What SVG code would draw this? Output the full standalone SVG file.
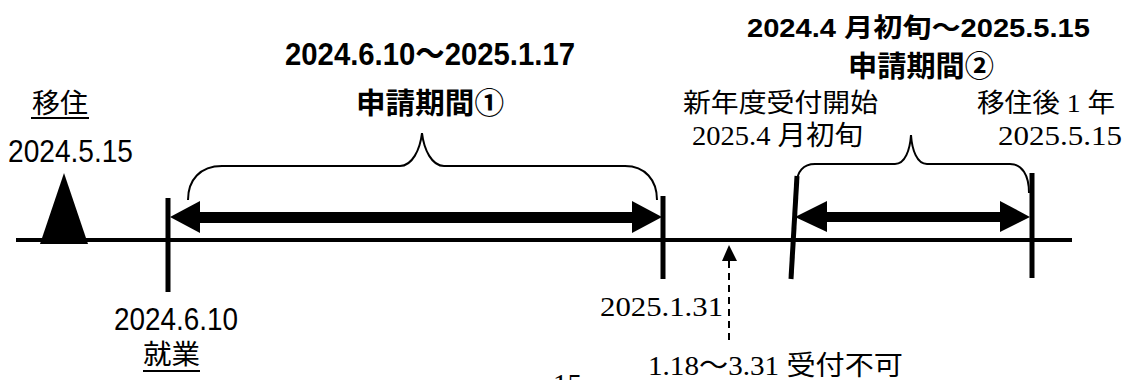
<svg xmlns="http://www.w3.org/2000/svg" width="1126" height="380" viewBox="0 0 1126 380">
<style>
.g{font-family:"Liberation Sans","Noto Sans CJK JP",sans-serif;fill:#000}
.gb{font-family:"Liberation Sans","Noto Sans CJK JP",sans-serif;font-weight:bold;fill:#000}
.s{font-family:"Liberation Serif","Noto Sans CJK JP",serif;fill:#000}
.tick{stroke:#000;stroke-width:5;fill:none}
.brace{stroke:#000;stroke-width:2;fill:none}
.ul{stroke:#000;stroke-width:2}
</style>
<rect width="1126" height="380" fill="#fff"/>
<g id="connectors">
  <line x1="16" y1="240" x2="1072" y2="240" stroke="#000" stroke-width="4"/>
  <g id="arrow1">
    <rect x="198" y="212" width="436" height="11" fill="#000"/>
    <polygon points="170,217 200,201 200,233" fill="#000"/>
    <polygon points="662,217 632,201 632,233" fill="#000"/>
  </g>
  <g id="arrow2">
    <rect x="825" y="212" width="177" height="10" fill="#000"/>
    <polygon points="795,217 827,201 827,232" fill="#000"/>
    <polygon points="1030,217 1000,201 1000,232" fill="#000"/>
  </g>
  <g id="dashed-arrow">
    <line x1="729" y1="340" x2="729" y2="260" stroke="#000" stroke-width="2" stroke-dasharray="7,5"/>
    <polygon points="729,245 722,261 737,261" fill="#000"/>
  </g>
</g>
<g id="move-in">
  <polygon points="64,173 88,244 40,244" fill="#000"/>
  <text class="g" x="32" y="113" font-size="27" textLength="56" lengthAdjust="spacingAndGlyphs">移住</text>
  <line class="ul" x1="31" y1="118" x2="89" y2="118"/>
  <text class="g" x="8" y="162" font-size="32" textLength="125" lengthAdjust="spacingAndGlyphs">2024.5.15</text>
</g>
<g id="employment">
  <line class="tick" x1="168" y1="198" x2="168" y2="292"/>
  <text class="g" x="114" y="330" font-size="32" textLength="124" lengthAdjust="spacingAndGlyphs">2024.6.10</text>
  <text class="g" x="143" y="364" font-size="27" textLength="57" lengthAdjust="spacingAndGlyphs">就業</text>
  <line class="ul" x1="143" y1="371" x2="200" y2="371"/>
</g>
<g id="period1">
  <path class="brace" d="M188,200 C188,180 200,166 222,166 L400,166 C412,166 420,150 422,133 C424,150 432,166 444,166 L625,166 C645,166 657,180 657,200"/>
  <text class="gb" x="285" y="65" font-size="32" textLength="290" lengthAdjust="spacingAndGlyphs">2024.6.10～2025.1.17</text>
  <text class="gb" x="356" y="114" font-size="29" textLength="148" lengthAdjust="spacingAndGlyphs">申請期間①</text>
</g>
<g id="end1">
  <line class="tick" x1="663" y1="196" x2="663" y2="279"/>
  <text class="s" x="600" y="316" font-size="28" textLength="123" lengthAdjust="spacingAndGlyphs">2025.1.31</text>
</g>
<g id="closed">
  <text class="s" x="648" y="375" font-size="27" textLength="255" lengthAdjust="spacingAndGlyphs">1.18～3.31 受付不可</text>
  <text class="s" x="553" y="393" font-size="28" textLength="29" lengthAdjust="spacingAndGlyphs">15</text>
</g>
<g id="new-year">
  <line class="tick" x1="797" y1="176" x2="791" y2="279"/>
  <text class="s" x="683" y="112" font-size="26" textLength="195" lengthAdjust="spacingAndGlyphs">新年度受付開始</text>
  <text class="s" x="692" y="145" font-size="27" textLength="171" lengthAdjust="spacingAndGlyphs">2025.4 月初旬</text>
</g>
<g id="one-year">
  <line class="tick" x1="1032" y1="173" x2="1032" y2="278"/>
  <text class="s" x="977" y="112" font-size="26" textLength="138" lengthAdjust="spacingAndGlyphs">移住後 1 年</text>
  <text class="s" x="998" y="145" font-size="28" textLength="124" lengthAdjust="spacingAndGlyphs">2025.5.15</text>
</g>
<g id="period2">
  <path class="brace" d="M797,183 C797,172 803,164 815,164 L895,164 C905,164 910,150 911,135 C912,150 917,164 927,164 L1010,164 C1022,164 1029,175 1029,193"/>
  <text class="gb" x="747" y="37" font-size="26" textLength="343" lengthAdjust="spacingAndGlyphs">2024.4 月初旬～2025.5.15</text>
  <text class="gb" x="848" y="77" font-size="29" textLength="146" lengthAdjust="spacingAndGlyphs">申請期間②</text>
</g>
</svg>
